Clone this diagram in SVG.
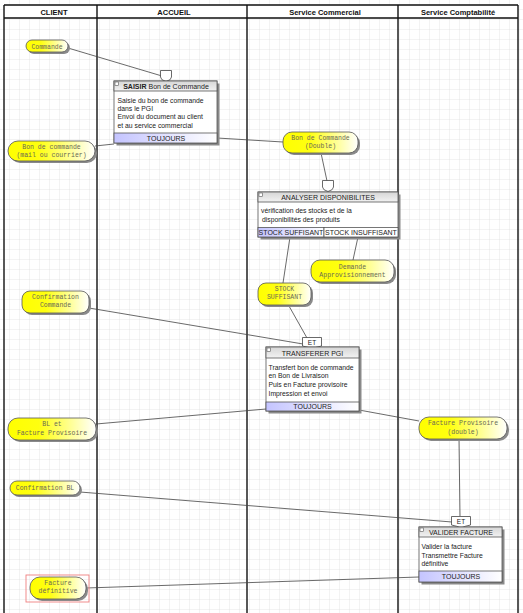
<svg xmlns="http://www.w3.org/2000/svg" width="523" height="613" viewBox="0 0 523 613">
<defs>
<pattern id="grid" width="10" height="10" patternUnits="userSpaceOnUse">
<path d="M10 0V10M0 10H10" fill="none" stroke="#dcdcdc" stroke-width="0.7"/>
</pattern>
<linearGradient id="yel" x1="0" y1="0" x2="1" y2="0">
<stop offset="0" stop-color="#ffff00"/><stop offset="0.35" stop-color="#ffff10"/><stop offset="1" stop-color="#ffffff"/>
</linearGradient>
<linearGradient id="lav" x1="0" y1="0" x2="1" y2="0">
<stop offset="0" stop-color="#c4c4ff"/><stop offset="1" stop-color="#ffffff"/>
</linearGradient>
<linearGradient id="hdr" x1="0" y1="0" x2="0" y2="1">
<stop offset="0" stop-color="#d6d6d6"/><stop offset="1" stop-color="#f2f2f2"/>
</linearGradient>
</defs>
<style>
.lane{stroke:#111;stroke-width:1.4;fill:none}
.hd{font-family:"Liberation Sans",Arial,sans-serif;font-size:7.5px;font-weight:bold;fill:#111;text-anchor:middle}
.pill{fill:url(#yel);stroke:#555;stroke-width:0.8}
.sh{fill:#8a8a8a}
.lt{font-family:"Liberation Mono","Courier New",monospace;font-size:6.5px;fill:#6a6a55;text-anchor:middle}
.box{fill:#fff;stroke:#555;stroke-width:0.8}
.bh{fill:url(#hdr);stroke:#555;stroke-width:0.8}
.bf{fill:url(#lav);stroke:#555;stroke-width:0.8}
.bt{font-family:"Liberation Sans",Arial,sans-serif;font-size:6.8px;fill:#222}
.ht{font-family:"Liberation Sans",Arial,sans-serif;font-size:7px;fill:#222;text-anchor:middle}
.tab{fill:#fff;stroke:#444;stroke-width:0.8}
.ic{fill:#fff;stroke:#555;stroke-width:0.6}
.cn{stroke:#444;stroke-width:0.8;fill:none}
</style>
<rect width="523" height="613" fill="#fff"/>
<rect width="523" height="613" fill="url(#grid)"/>
<rect x="4" y="5" width="514" height="13" fill="#fff"/>
<g id="lanes">
<path class="lane" d="M4 5H518M4 18H518M4 5V613M97 5V613M247 5V613M398 5V613M518 5V613"/>
<text class="hd" x="54" y="14.5">CLIENT</text>
<text class="hd" x="174" y="14.5">ACCUEIL</text>
<text class="hd" x="325" y="14.5">Service Commercial</text>
<text class="hd" x="458" y="14.5">Service Comptabilité</text>
</g>
<g id="connectors">
<path class="cn" d="M68 48L162 76"/>
<path class="cn" d="M95 146L114 144"/>
<path class="cn" d="M217 138L283 142"/>
<path class="cn" d="M321 153L327 181"/>
<path class="cn" d="M290 237L283 283"/>
<path class="cn" d="M358 237L353 260"/>
<path class="cn" d="M289 306L307 338"/>
<path class="cn" d="M89 308L303 344"/>
<path class="cn" d="M266 409L96 424"/>
<path class="cn" d="M359 410L419 421"/>
<path class="cn" d="M459 439L460 516"/>
<path class="cn" d="M80 492L452 522"/>
<path class="cn" d="M419 577L86 588"/>
</g>
<g id="n-commande">
<rect class="sh" x="28" y="42" width="42" height="12" rx="6"/>
<rect class="pill" x="26" y="40" width="42" height="12" rx="6"/>
<text class="lt" x="47" y="48.5">Commande</text>
</g>
<g id="n-saisir">
<path class="tab" d="M160.5 70.5H171.5V77Q171.5 80 166 81.5Q160.5 80 160.5 77Z"/>
<rect class="sh" x="116.5" y="83.5" width="103" height="62"/>
<rect class="box" x="114" y="81" width="103" height="62"/>
<rect class="bh" x="114" y="81" width="103" height="10"/>
<rect class="ic" x="115" y="82" width="3.5" height="3.5"/>
<text class="ht" x="166" y="88.8"><tspan font-weight="bold">SAISIR</tspan> Bon de Commande</text>
<text class="bt" x="117.5" y="102.5">Saisie du bon de commande</text>
<text class="bt" x="117.5" y="110.8">dans le PGI</text>
<text class="bt" x="117.5" y="119">Envoi du document au client</text>
<text class="bt" x="117.5" y="127.5">et au service commercial</text>
<rect class="bf" x="114" y="133" width="103" height="10"/>
<text class="ht" x="166" y="140.7">TOUJOURS</text>
</g>
<g id="n-bdc-mail">
<rect class="sh" x="10" y="143" width="87" height="20" rx="10"/>
<rect class="pill" x="8" y="141" width="87" height="20" rx="10"/>
<text class="lt" x="51.5" y="149">Bon de commande</text>
<text class="lt" x="51.5" y="157">(mail ou courrier)</text>
</g>
<g id="n-bdc-double">
<rect class="sh" x="285" y="134" width="75" height="21" rx="9"/>
<rect class="pill" x="283" y="132" width="75" height="21" rx="9"/>
<text class="lt" x="320.5" y="140">Bon de Commande</text>
<text class="lt" x="320.5" y="148">(Double)</text>
</g>
<g id="n-analyser">
<path class="tab" d="M322.5 180.5H333.5V187Q333.5 190 328 191.5Q322.5 190 322.5 187Z"/>
<rect class="sh" x="260.5" y="194.5" width="140" height="45"/>
<rect class="box" x="258" y="192" width="140" height="45"/>
<rect class="bh" x="258" y="192" width="140" height="10"/>
<rect class="ic" x="259" y="193" width="3.5" height="3.5"/>
<text class="ht" x="328" y="199.8">ANALYSER DISPONIBILITES</text>
<text class="bt" x="261" y="213">vérification des stocks et de la</text>
<text class="bt" x="262" y="222">disponibilités des produits</text>
<rect class="bf" x="258" y="227.5" width="66" height="9.5"/>
<rect class="box" x="324" y="227.5" width="74" height="9.5"/>
<text class="ht" x="291" y="235">STOCK SUFFISANT</text>
<text class="ht" x="361" y="235">STOCK INSUFFISANT</text>
</g>
<g id="n-demande">
<rect class="sh" x="313" y="262" width="83" height="22" rx="9"/>
<rect class="pill" x="311" y="260" width="83" height="22" rx="9"/>
<text class="lt" x="352.5" y="268.5">Demande</text>
<text class="lt" x="352.5" y="276.5">Approvisionnement</text>
</g>
<g id="n-stock">
<rect class="sh" x="260" y="285" width="53" height="22" rx="8"/>
<rect class="pill" x="258" y="283" width="53" height="22" rx="8"/>
<text class="lt" x="284.5" y="291">STOCK</text>
<text class="lt" x="284.5" y="298.5">SUFFISANT</text>
</g>
<g id="n-confcmd">
<rect class="sh" x="24" y="293" width="67" height="22" rx="8"/>
<rect class="pill" x="22" y="291" width="67" height="22" rx="8"/>
<text class="lt" x="55.5" y="299">Confirmation</text>
<text class="lt" x="55.5" y="306.5">Commande</text>
</g>
<g id="n-transferer">
<path class="tab" d="M302.5 337.5H321.5V346Q316 347 312 349Q308 347 302.5 346Z"/>
<text class="ht" x="312" y="345" style="font-size:6.5px">ET</text>
<rect class="sh" x="268.5" y="349.5" width="93" height="64"/>
<rect class="box" x="266" y="347" width="93" height="64"/>
<rect class="bh" x="266" y="347" width="93" height="11"/>
<rect class="ic" x="267" y="348" width="3.5" height="3.5"/>
<text class="ht" x="312.5" y="355.5">TRANSFERER PGI</text>
<text class="bt" x="268.5" y="369.5">Transfert bon de commande</text>
<text class="bt" x="268.5" y="378.3">en Bon de Livraison</text>
<text class="bt" x="268.5" y="387.3">Puis en Facture provisoire</text>
<text class="bt" x="268.5" y="395.8">Impression et envoi</text>
<rect class="bf" x="266" y="402" width="93" height="9"/>
<text class="ht" x="312.5" y="409">TOUJOURS</text>
</g>
<g id="n-bl">
<rect class="sh" x="10" y="420" width="88" height="22" rx="10"/>
<rect class="pill" x="8" y="418" width="88" height="22" rx="10"/>
<text class="lt" x="52" y="426">BL et</text>
<text class="lt" x="52" y="434.5">Facture Provisoire</text>
</g>
<g id="n-factprov">
<rect class="sh" x="421" y="419" width="88" height="22" rx="10"/>
<rect class="pill" x="419" y="417" width="88" height="22" rx="10"/>
<text class="lt" x="463" y="425">Facture Provisoire</text>
<text class="lt" x="463" y="433.5">(double)</text>
</g>
<g id="n-confbl">
<rect class="sh" x="12" y="483" width="70" height="14" rx="7"/>
<rect class="pill" x="10" y="481" width="70" height="14" rx="7"/>
<text class="lt" x="45" y="490">Confirmation BL</text>
</g>
<g id="n-valider">
<path class="tab" d="M451.5 516.5H470.5V525Q465 526 461 528Q457 526 451.5 525Z"/>
<text class="ht" x="461" y="524" style="font-size:6.5px">ET</text>
<rect class="sh" x="421.5" y="529.5" width="83" height="55"/>
<rect class="box" x="419" y="527" width="83" height="55"/>
<rect class="bh" x="419" y="527" width="83" height="10"/>
<rect class="ic" x="420" y="528" width="3.5" height="3.5"/>
<text class="ht" x="461" y="535">VALIDER FACTURE</text>
<text class="bt" x="421.5" y="549">Valider la facture</text>
<text class="bt" x="421.5" y="557.5">Transmettre Facture</text>
<text class="bt" x="421.5" y="566">définitive</text>
<rect class="bf" x="419" y="571" width="83" height="11"/>
<text class="ht" x="461" y="579">TOUJOURS</text>
</g>
<g id="n-factdef">
<rect x="26" y="575" width="63" height="27" fill="none" stroke="#f08080" stroke-width="0.9"/>
<rect class="sh" x="32" y="579" width="56" height="22" rx="10"/>
<rect class="pill" x="30" y="577" width="56" height="22" rx="10"/>
<text class="lt" x="58" y="585">Facture</text>
<text class="lt" x="58" y="593">définitive</text>
</g>
</svg>
